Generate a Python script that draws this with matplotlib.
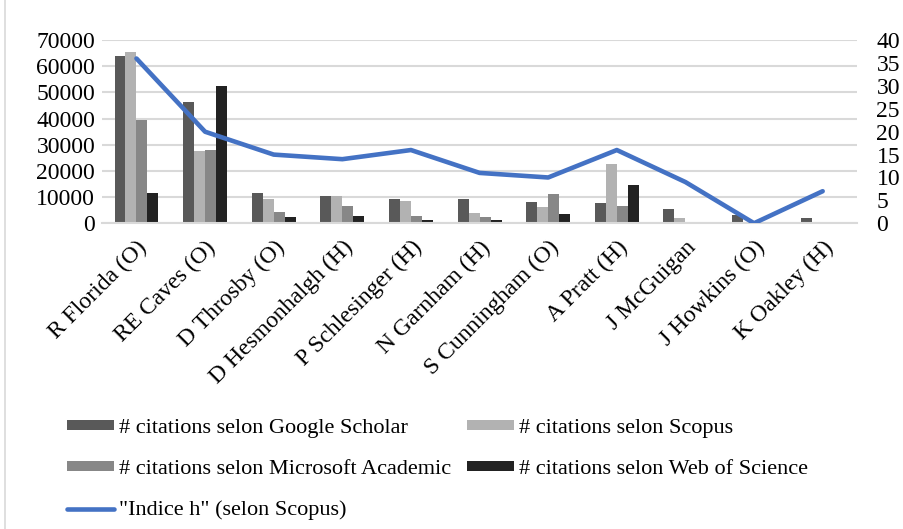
import numpy as np
import matplotlib.pyplot as plt
from matplotlib.lines import Line2D

plt.rcParams['font.family'] = ['Liberation Serif', 'DejaVu Serif']

authors = ["R Florida (O)", "RE Caves (O)", "D Throsby (O)", "D Hesmonhalgh (H)",
           "P Schlesinger (H)", "N Garnham (H)", "S Cunningham (O)", "A Pratt (H)",
           "J McGuigan", "J Howkins (O)", "K Oakley (H)"]
google_scholar = [64000, 46300, 11400, 10300, 9100, 9100, 8000, 7700, 5600, 3000, 2000]
scopus = [65300, 27800, 9100, 10300, 8400, 4000, 6200, 22800, 1900, 0, 600]
microsoft_academic = [39400, 28200, 4300, 6600, 2900, 2400, 11000, 6600, 0, 0, 600]
web_of_science = [11400, 52300, 2400, 2900, 1400, 1100, 3400, 14700, 0, 0, 600]
h_index = [36, 20, 15, 14, 16, 11, 10, 16, 9, 0, 7]

series = [
    ("# citations selon Google Scholar", google_scholar, "#595959"),
    ("# citations selon Scopus", scopus, "#b2b2b2"),
    ("# citations selon Microsoft Academic", microsoft_academic, "#878787"),
    ("# citations selon Web of Science", web_of_science, "#222222"),
]

fig = plt.figure(figsize=(9.04, 5.29), dpi=100)
ax = fig.add_axes([0.113, 0.578, 0.835, 0.346])
x = np.arange(len(authors))
w = 0.16
bars = []
for i, (label, vals, col) in enumerate(series):
    b = ax.bar(x + (i - 1.5) * w, vals, w, color=col, label=label, zorder=2)
    bars.append(b)

ax.set_ylim(0, 70000)
ax.set_yticks(range(0, 70001, 10000))
ax.set_xlim(-0.5, len(authors) - 0.5)
ax.set_xticks(x)
ax.set_xticklabels(authors, rotation=45, ha='right', rotation_mode='anchor', fontsize=17)
ax.grid(axis='y', color='#d9d9d9', linewidth=1.5, zorder=0)
ax.tick_params(axis='y', length=0, labelsize=17, pad=5)
ax.tick_params(axis='x', length=0, pad=10)
for s in ax.spines.values():
    s.set_visible(False)
ax.spines['bottom'].set_visible(True)
ax.spines['bottom'].set_color('#d9d9d9')
ax.spines['bottom'].set_linewidth(1.5)

ax2 = ax.twinx()
line, = ax2.plot(x, h_index, color='#4472c4', linewidth=3.3, solid_capstyle='round',
                 label='"Indice h" (selon Scopus)', zorder=3)
ax2.set_ylim(0, 40)
ax2.set_yticks(range(0, 41, 5))
ax2.tick_params(axis='y', length=0, labelsize=17, pad=14)
for s in ax2.spines.values():
    s.set_visible(False)

handles = [bars[0], bars[2], line, bars[1], bars[3]]
labels = [h.get_label() for h in handles]
fig.legend(handles, labels, ncol=2, loc='lower left', bbox_to_anchor=(0.052, -0.021),
           frameon=False, fontsize=16, handlelength=2.1, handleheight=0.3,
           labelspacing=0.97, columnspacing=0.75, handletextpad=0.22)

fig.add_artist(Line2D([0.006, 0.006], [0, 1], color='#d9d9d9', linewidth=1.2))

fig.savefig('out.png', dpi=100)
